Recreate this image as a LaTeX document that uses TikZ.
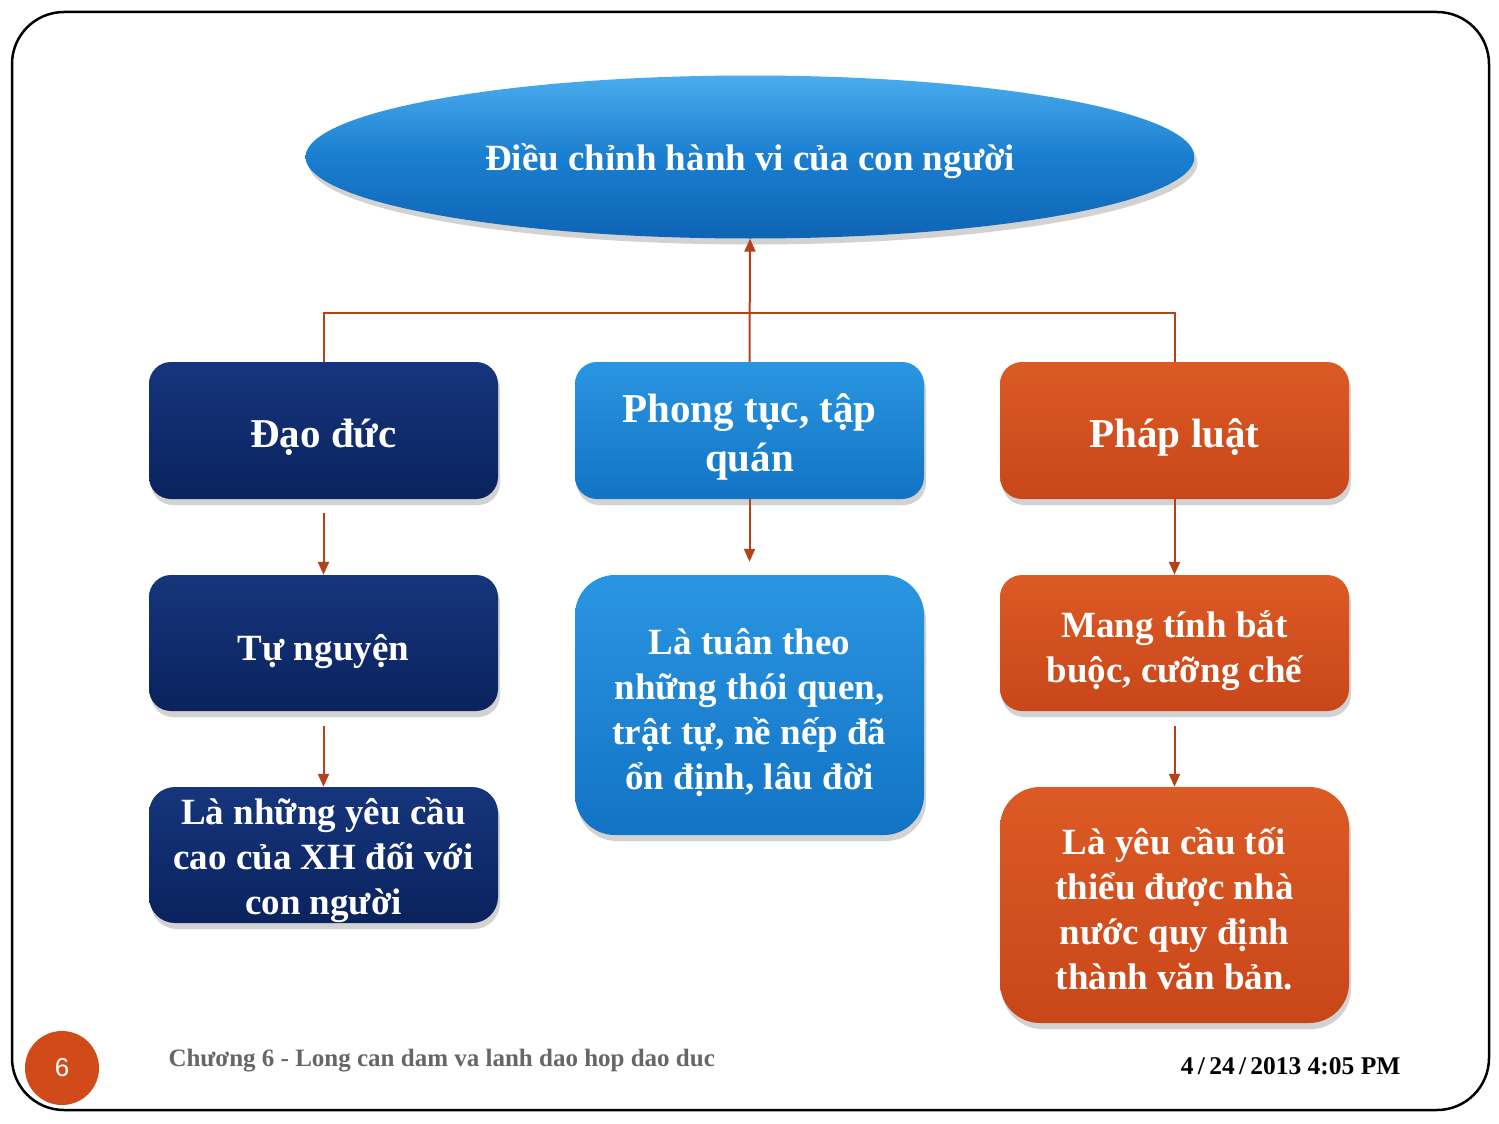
\documentclass[tikz,border=0pt]{standalone}
\usepackage{fontspec}
\setmainfont{Liberation Serif}
\setsansfont{Liberation Sans}
\usetikzlibrary{shapes.geometric,arrows.meta,shadows,calc}
\definecolor{navyT}{HTML}{16357C}
\definecolor{navyB}{HTML}{0A235E}
\definecolor{blueT}{HTML}{2A96E2}
\definecolor{blueB}{HTML}{1273C4}
\definecolor{oranT}{HTML}{DC5A24}
\definecolor{oranB}{HTML}{C9461A}
\definecolor{ellT}{HTML}{4AACEE}
\definecolor{ellM}{HTML}{1A7ED0}
\definecolor{ellB}{HTML}{0F64B4}
\definecolor{conn}{HTML}{B5411A}
\definecolor{foot}{HTML}{666666}
\definecolor{pagec}{HTML}{D04A1A}
\newcommand\topst[1]{\rule{0pt}{#1}}
\newcommand\botst[1]{\rule[-#1]{0pt}{#1}}
\tikzset{
  boxtext/.style={inner sep=0pt, align=center, text=white,
    font=\bfseries\fontsize{37}{45}\selectfont},
  boxbase/.style={rectangle, minimum width=349pt, boxtext,
    drop shadow={opacity=0.35, shadow xshift=2pt, shadow yshift=-6pt}},
  navybox/.style={boxbase, top color=navyT, bottom color=navyB},
  bluebox/.style={boxbase, top color=blueT, bottom color=blueB},
  orangebox/.style={boxbase, top color=oranT, bottom color=oranB},
  titlefont/.style={font=\bfseries\fontsize{41}{49}\selectfont},
  link/.style={draw=conn, line width=2pt},
  arr/.style={link, -{Triangle[length=13pt,width=11pt]}}
}
\begin{document}
\begin{tikzpicture}[x=1pt,y=-1pt]
\useasboundingbox (0,0) rectangle (1499,1124);
\fill[white] (0,0) rectangle (1499,1124);
\draw[line width=2.5pt, rounded corners=52pt] (12,12) rectangle (1489,1110);

% top ellipse
\node[ellipse, minimum width=889pt, minimum height=163pt, inner sep=0pt,
  top color=ellT, bottom color=ellB, middle color=ellM,
  drop shadow={opacity=0.35, shadow xshift=3pt, shadow yshift=-6pt},
  text=white, font=\bfseries\fontsize{37}{40}\selectfont] (dieu) at (750,157)
  {\topst{36pt}Điều chỉnh hành vi của con người\botst{10pt}};

% row 1
\node[navybox, titlefont, minimum height=137pt, rounded corners=22pt] (dao) at (323.5,430.5)
  {\topst{46pt}Đạo đức\botst{13pt}};
\node[bluebox, titlefont, minimum height=137pt, rounded corners=22pt] (phong) at (749.5,430.5)
  {\topst{46pt}Phong tục, tập\\quán\botst{13pt}};
\node[orangebox, titlefont, minimum height=137pt, rounded corners=22pt] (phap) at (1174.5,430.5)
  {\topst{46pt}Pháp luật\botst{13pt}};

% row 2
\node[navybox, minimum height=136pt, rounded corners=22pt] (tu) at (323.5,643)
  {\topst{43pt}Tự nguyện\botst{9pt}};
\node[bluebox, minimum height=260pt, rounded corners=40pt] (latuan) at (749.5,705)
  {\topst{43pt}Là tuân theo\\những thói quen,\\trật tự, nề nếp đã\\ổn định, lâu đời\botst{9pt}};
\node[orangebox, minimum height=136pt, rounded corners=22pt] (mang) at (1174.5,643)
  {\topst{43pt}Mang tính bắt\\buộc, cưỡng chế\botst{9pt}};

% row 3
\node[navybox, minimum height=136pt, rounded corners=26pt] (lanhung) at (323.5,855) {};
\node[boxtext] (lanhungtxt) at (323.5,857)
  {\topst{33pt}Là những yêu cầu\\cao của XH đối với\\con người\botst{9pt}};
\node[orangebox, minimum height=236pt, rounded corners=40pt] (layeu) at (1174.5,905)
  {\topst{43pt}Là yêu cầu tối\\thiểu được nhà\\nước quy định\\thành văn bản.\botst{9pt}};

% connectors
\coordinate (bar) at (750,313);
\draw[link] (dao.north) |- (bar) -| (phap.north);
\draw[arr] (phong.north) -- (dieu.south);
\draw[arr, shorten <=14pt] (dao.south) -- (tu.north);
\draw[arr, shorten <=15pt] (tu.south) -- (lanhung.north);
\draw[arr, shorten >=13pt] (phong.south) -- (latuan.north);
\draw[arr] (phap.south) -- (mang.north);
\draw[arr, shorten <=15pt] (mang.south) -- (layeu.north);

% footer
\node[circle, fill=pagec, minimum size=74pt, inner sep=0pt, text=white,
  font=\sffamily\fontsize{26}{30}\selectfont] (page) at (62,1068) {6};
\node[anchor=west, text=foot, font=\bfseries\fontsize{25}{28}\selectfont] (chap) at (165,1061)
  {Chương 6 - Long can dam va lanh dao hop dao duc};
\node[anchor=east, text=black, font=\bfseries\fontsize{25.5}{28}\selectfont] (date) at (1404,1066)
  {4\,/\,24\,/\,2013 4:05 PM};
\end{tikzpicture}
\end{document}
